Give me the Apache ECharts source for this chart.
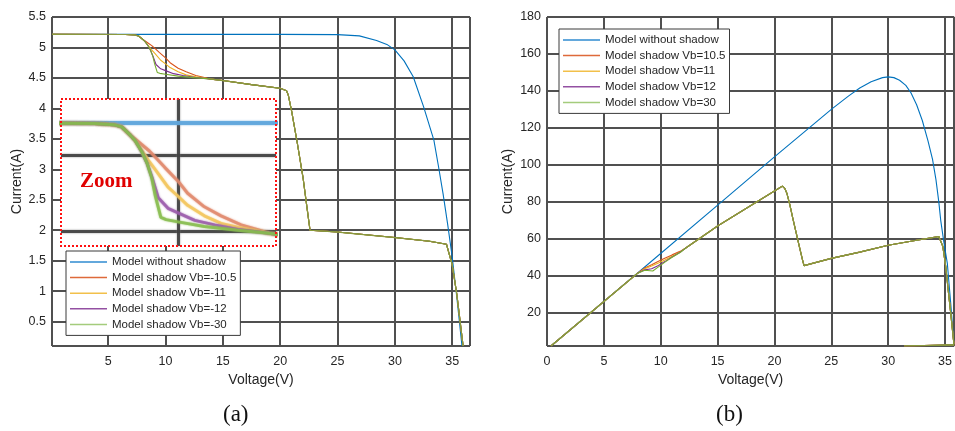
<!DOCTYPE html>
<html>
<head>
<meta charset="utf-8">
<script src="https://cdn.jsdelivr.net/npm/echarts@6/dist/echarts.min.js"></script>
<style>
html,body{margin:0;padding:0;background:#fff;}
#chart{width:955px;height:431px;}
</style>
</head>
<body>
<div id="chart"></div>
<script>
// ---------- DATA ----------
const seriesNamesA = ['Model without shadow','Model shadow Vb=-10.5','Model shadow Vb=-11','Model shadow Vb=-12','Model shadow Vb=-30'];
const seriesNamesB = ['Model without shadow','Model shadow Vb=10.5','Model shadow Vb=11','Model shadow Vb=12','Model shadow Vb=30'];
const panelLabels = ['(a)','(b)'];
const xAxisName = 'Voltage(V)';
const yAxisName = 'Current(A)';
const insetLabel = 'Zoom';

// (a) I-V curves  [voltage, current]
const ivBlue = [[0.1,5.215],[20,5.215],[25,5.21],[26.9,5.19],[28.4,5.115],[29.3,5.05],[30,4.96],[30.8,4.78],[31.6,4.52],[32.5,4.03],[33.4,3.48],[33.8,3.05],[34.2,2.6],[34.6,2.1],[35,1.56],[35.4,0.9],[35.85,0.1]];
const ivShadeStart = [[0.1,5.215],[6.5,5.213],[7.3,5.205],[7.64,5.19],[8.0,5.135]];
const ivOrangeMid = [[8.2,5.11],[8.5,5.07],[8.8,5.03],[9.1,4.98],[9.45,4.92],[10,4.83],[10.4,4.75],[11.1,4.66],[11.8,4.60],[12.64,4.54],[13.3,4.51]];
const ivYellowMid = [[8.2,5.10],[8.5,5.03],[8.75,4.97],[9.03,4.91],[9.58,4.79],[10,4.73],[10.4,4.67],[11.1,4.60],[11.8,4.55],[12.64,4.52],[13.2,4.505]];
const ivPurpleMid = [[8.2,5.10],[8.5,5.02],[8.7,4.95],[8.9,4.86],[9.17,4.72],[9.58,4.65],[10,4.62],[10.7,4.57],[11.53,4.54],[12.5,4.51]];
const ivGreenMid = [[8.2,5.10],[8.5,5.02],[8.7,4.95],[8.9,4.85],[9.05,4.73],[9.28,4.59],[9.5,4.575],[10,4.56],[11.1,4.53],[12.5,4.505]];
const ivShadeEnd = [[13.8,4.485],[15,4.457],[17.5,4.39],[20,4.33],[20.55,4.29],[20.7,4.22],[21.0,3.95],[21.5,3.42],[22.0,2.85],[22.35,2.35],[22.6,2.0],[25,1.97],[30,1.88],[33,1.82],[34.5,1.77],[34.75,1.6],[35,1.43],[35.4,0.95],[35.95,0.1]];

// (b) P-V curves  [voltage, power]
const pvBlue = [[0.35,2],[7.97,41.5],[15.5,80.8],[20,104.3],[25,130],[26.5,137.2],[27.5,141.6],[28.5,145],[29.5,147.2],[30,147.6],[30.5,147.2],[31,145.8],[31.55,143],[32,139],[32.5,132.5],[33,124],[33.5,113],[33.9,103],[34.2,92],[34.45,80],[34.62,70],[34.9,58],[35.2,46.7],[35.5,25],[35.78,3]];
const pvShadeStart = [[0.35,2],[7.97,41.4]];
const pvOrangeMid = [[8.6,44.2],[9.2,46.0],[9.8,47.9],[10.4,49.6],[11,51.3],[11.7,53.2]];
const pvYellowMid = [[8.6,43.8],[9.2,45.3],[9.8,46.9],[10.4,48.7],[11,50.6],[11.7,52.9]];
const pvPurpleMid = [[8.6,43.2],[9.2,43.8],[9.8,45.6],[10.4,47.8],[11,50.2],[11.7,52.7]];
const pvGreenMid = [[8.6,43.0],[9.3,42.6],[9.8,44.8],[10.4,47.5],[11,50.0],[11.7,52.6]];
const pvShadeEnd = [[12.2,55.0],[15,66.9],[20.5,87.8],[20.7,88.5],[20.9,87.3],[21.1,84.5],[21.35,78.5],[21.6,71.5],[21.9,63.5],[22.2,55.5],[22.45,49],[22.6,45.5],[25,49.4],[27.5,52.8],[30,56.5],[32.5,59.2],[34.45,61.2],[34.6,60.5],[34.8,56],[35.06,45],[35.3,31],[35.5,19.7],[35.78,3]];
const pvShadeTail = [[31.4,2.0],[35.8,2.6]];

// axis ranges
const axA = {xMin:0.1, xMax:36.55, yMin:0.1, yMax:5.5};
const axB = {xMin:0, xMax:35.8, yMin:2, yMax:180};
const axInset = {xMin:5.1, xMax:14.1, yMin:4.40, yMax:5.375};

// ---------- STYLE ----------
const colors = ['#0072BD','#D95319','#EDB120','#7E2F8E','#77AC30'];
const olive = '#8b9a3e';
const FONT = '"Liberation Sans", Arial, sans-serif';
const gridLine = {show:true, lineStyle:{color:'#505050', width:2}};
const labelStyle = {color:'#262626', fontSize:12.5, fontFamily:FONT};

const chart = echarts.init(document.getElementById('chart'), null, {renderer:'canvas'});

const mid = (s, m, e) => s.concat(m, e);
const brk = (a, b) => a.concat([['-','-']], b);

const ivData = [ivBlue,
  mid(ivShadeStart, ivOrangeMid, ivShadeEnd),
  mid(ivShadeStart, ivYellowMid, ivShadeEnd),
  mid(ivShadeStart, ivPurpleMid, ivShadeEnd),
  mid(ivShadeStart, ivGreenMid, ivShadeEnd)];
const pvData = [pvBlue,
  brk(mid(pvShadeStart, pvOrangeMid, pvShadeEnd), pvShadeTail),
  brk(mid(pvShadeStart, pvYellowMid, pvShadeEnd), pvShadeTail),
  brk(mid(pvShadeStart, pvPurpleMid, pvShadeEnd), pvShadeTail),
  brk(mid(pvShadeStart, pvGreenMid, pvShadeEnd), pvShadeTail)];

const series = [];
ivData.forEach((d,i)=>series.push({type:'line', name:seriesNamesA[i], xAxisIndex:0, yAxisIndex:0, data:d, symbol:'none', animation:false,
  lineStyle:{color:colors[i], width:1.1}, itemStyle:{color:colors[i]}}));
// overlapping shared segments
series.push({type:'line', name:'_ovA1', xAxisIndex:0, yAxisIndex:0, data:ivShadeStart, symbol:'none', lineStyle:{color:olive, width:1.2}, silent:true});
series.push({type:'line', name:'_ovA2', xAxisIndex:0, yAxisIndex:0, data:ivShadeEnd, symbol:'none', lineStyle:{color:olive, width:1.2}, silent:true});
pvData.forEach((d,i)=>series.push({type:'line', name:seriesNamesB[i], xAxisIndex:1, yAxisIndex:1, data:d, symbol:'none', animation:false,
  lineStyle:{color:colors[i], width:1.1}, itemStyle:{color:colors[i]}}));
series.push({type:'line', name:'_ovB1', xAxisIndex:1, yAxisIndex:1, data:pvShadeStart, symbol:'none', lineStyle:{color:olive, width:1.2}, silent:true});
series.push({type:'line', name:'_ovB2', xAxisIndex:1, yAxisIndex:1, data:brk(pvShadeEnd, pvShadeTail), symbol:'none', lineStyle:{color:olive, width:1.2}, silent:true});
// inset (magnified, blurred look)
const insetColors = ['#5ea6dc','#e0876a','#f2c45a','#9a5aaa','#86bb4c'];
ivData.forEach((d,i)=>series.push({type:'line', name:'_inset'+i, xAxisIndex:2, yAxisIndex:2, data:d, symbol:'none', zlevel:1, silent:true,
  lineStyle:{color:insetColors[i], width:i===0?4:3, opacity:i===0?0.85:0.8, shadowBlur:2, shadowColor:insetColors[i]}}));

const legendIconColors = ['#2f8bd0','#de6a3a','#f2c04a','#9350a2','#a4cc7c'];
const legendCommon = {orient:'vertical', icon:'rect', itemWidth:37, itemHeight:1.5, itemGap:1.6, padding:[4,4,4,4],
  backgroundColor:'#fff', borderColor:'#3a3a3a', borderWidth:1, borderRadius:0,
  textStyle:{fontSize:11.5, lineHeight:14, fontFamily:FONT, color:'#262626'}, selectedMode:false};
const legendItems = names => names.map((n,i)=> ({name:n, itemStyle:{color:legendIconColors[i]}}));

const option = {
  backgroundColor:'#fff',
  animation:false,
  grid:[
    {left:52, top:17, width:418, height:329, show:true, borderColor:'#555', borderWidth:1, containLabel:false},
    {left:547, top:17, width:409, height:329, show:true, borderColor:'#555', borderWidth:1, containLabel:false},
    {left:61, top:99, width:215, height:147, show:true, backgroundColor:'#fff', borderWidth:0, zlevel:1}
  ],
  legend:[
    Object.assign({left:66, top:251, data:legendItems(seriesNamesA)}, legendCommon),
    Object.assign({left:559, top:29, data:legendItems(seriesNamesB)}, legendCommon)
  ],
  xAxis:[
    {type:'value', gridIndex:0, min:axA.xMin, max:axA.xMax, splitNumber:7, axisLine:{show:false}, axisTick:{show:false},
     axisLabel:Object.assign({showMinLabel:false, showMaxLabel:false, margin:9}, labelStyle), splitLine:gridLine,
     name:xAxisName, nameLocation:'middle', nameGap:27, nameTextStyle:{fontSize:14, fontFamily:FONT, color:'#262626'}},
    {type:'value', gridIndex:1, min:axB.xMin, max:axB.xMax, interval:5, axisLine:{show:false}, axisTick:{show:false},
     axisLabel:Object.assign({showMaxLabel:false, margin:9}, labelStyle), splitLine:gridLine,
     name:xAxisName, nameLocation:'middle', nameGap:27, nameTextStyle:{fontSize:14, fontFamily:FONT, color:'#262626'}},
    {type:'value', gridIndex:2, min:axInset.xMin, max:axInset.xMax, splitNumber:2, zlevel:1, axisLine:{show:false}, axisTick:{show:false},
     axisLabel:{show:false}, splitLine:{show:true, showMinLine:false, showMaxLine:false, lineStyle:{color:'rgba(60,60,60,0.85)', width:3, shadowBlur:2, shadowColor:'#777'}}}
  ],
  yAxis:[
    {type:'value', gridIndex:0, min:axA.yMin, max:axA.yMax, splitNumber:10, axisLine:{show:false}, axisTick:{show:false},
     axisLabel:Object.assign({showMinLabel:false, margin:6}, labelStyle), splitLine:gridLine,
     name:yAxisName, nameLocation:'middle', nameGap:28, nameTextStyle:{fontSize:14, fontFamily:FONT, color:'#262626'}},
    {type:'value', gridIndex:1, min:axB.yMin, max:axB.yMax, splitNumber:9, axisLine:{show:false}, axisTick:{show:false},
     axisLabel:Object.assign({showMinLabel:false, margin:6}, labelStyle), splitLine:gridLine,
     name:yAxisName, nameLocation:'middle', nameGap:32, nameTextStyle:{fontSize:14, fontFamily:FONT, color:'#262626'}},
    {type:'value', gridIndex:2, min:axInset.yMin, max:axInset.yMax, splitNumber:2, zlevel:1, axisLine:{show:false}, axisTick:{show:false},
     axisLabel:{show:false}, splitLine:{show:true, showMinLine:false, showMaxLine:false, lineStyle:{color:'rgba(60,60,60,0.85)', width:3, shadowBlur:2, shadowColor:'#777'}}}
  ],
  graphic:[
    {type:'rect', zlevel:1, z:100, shape:{x:61, y:99, width:215, height:147},
     style:{fill:null, stroke:'#ff1010', lineWidth:2, lineDash:[2,2]}},
    {type:'text', zlevel:1, z:100, left:80, top:171,
     style:{text:insetLabel, fill:'#e00000', font:'bold 21px "Liberation Serif", "Times New Roman", serif',
            shadowColor:'rgba(60,0,0,0.8)', shadowBlur:2, shadowOffsetX:1, shadowOffsetY:1}},
    {type:'text', left:223, top:403, style:{text:panelLabels[0], fill:'#111', font:'23px "Liberation Serif", "Times New Roman", serif'}},
    {type:'text', left:716, top:403, style:{text:panelLabels[1], fill:'#111', font:'23px "Liberation Serif", "Times New Roman", serif'}}
  ],
  series:series
};
chart.setOption(option);
</script>
</body>
</html>
